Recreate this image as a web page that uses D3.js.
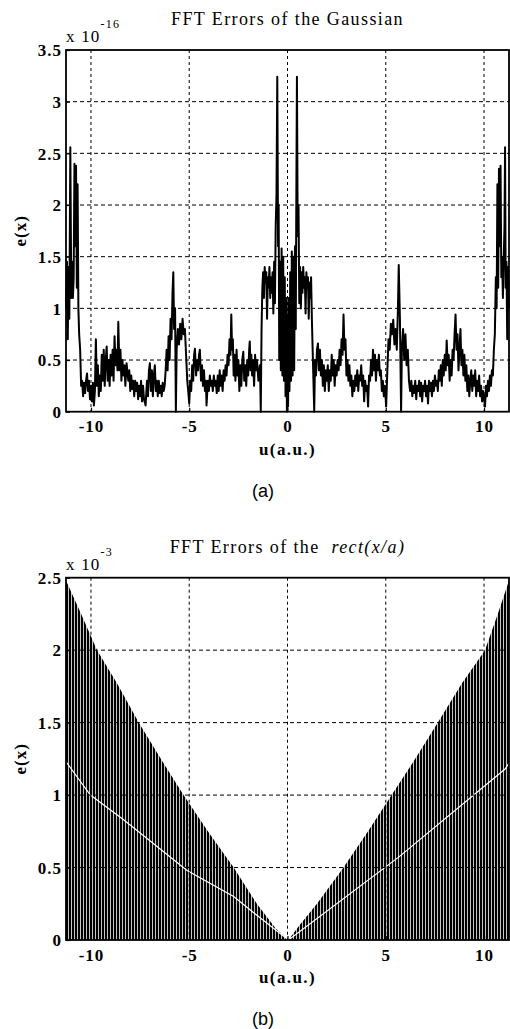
<!DOCTYPE html>
<html>
<head>
<meta charset="utf-8">
<script src="https://cdn.jsdelivr.net/npm/d3@7"></script>
<style>
  body { margin: 0; background: #fff; }
  svg { display: block; }
  .tick text { font-family: "Liberation Serif", "Times New Roman", serif; font-weight: bold; font-size: 17px; letter-spacing: 1px; fill: #000; }
  .serif { font-family: "Liberation Serif", "Times New Roman", serif; fill: #000; }
  .sans { font-family: "Liberation Sans", Arial, sans-serif; fill: #000; }
</style>
</head>
<body>
<div id="chart"></div>
<script>
var svgWidth = 510;
var svgHeight = 1029;

// tick values
var xTicks = [-10, -5, 0, 5, 10];
var yTicksA = [0, 0.5, 1, 1.5, 2, 2.5, 3, 3.5];
var yTicksB = [0, 0.5, 1, 1.5, 2, 2.5];
var uRange = [-11.27, 11.27];

// panel (a): FFT error of the Gaussian, [u, e * 1e16]
var gaussErr = [
  [-11.27, 1.0], [-11.22, 1.45], [-11.18, 0.7], [-11.14, 1.4], [-11.10, 0.9], [-11.05, 2.56], [-11.00, 1.1],
  [-10.96, 1.45], [-10.92, 1.1], [-10.88, 1.3], [-10.84, 2.4], [-10.80, 1.6], [-10.76, 2.38], [-10.72, 1.2],
  [-10.68, 2.2], [-10.64, 1.0], [-10.60, 0.75], [-10.55, 0.6], [-10.50, 0.25], [-10.45, 0.3], [-10.40, 0.15],
  [-10.35, 0.28], [-10.30, 0.18], [-10.25, 0.3], [-10.20, 0.37], [-10.15, 0.2], [-10.10, 0.3], [-10.05, 0.12],
  [-10.00, 0.25], [-9.95, 0.1], [-9.90, 0.28], [-9.85, 0.06], [-9.80, 0.2], [-9.75, 0.7], [-9.70, 0.25],
  [-9.65, 0.45], [-9.60, 0.15], [-9.55, 0.35], [-9.50, 0.2], [-9.45, 0.55], [-9.40, 0.3], [-9.35, 0.6],
  [-9.30, 0.25], [-9.25, 0.5], [-9.20, 0.63], [-9.15, 0.3], [-9.10, 0.5], [-9.05, 0.25], [-9.00, 0.55],
  [-8.95, 0.35], [-8.90, 0.6], [-8.85, 0.3], [-8.80, 0.73], [-8.75, 0.45], [-8.70, 0.6], [-8.65, 0.4],
  [-8.61, 0.87], [-8.55, 0.4], [-8.50, 0.6], [-8.45, 0.3], [-8.40, 0.5], [-8.35, 0.35], [-8.30, 0.45],
  [-8.25, 0.25], [-8.19, 0.47], [-8.10, 0.3], [-8.05, 0.4], [-8.00, 0.2], [-7.95, 0.35], [-7.90, 0.22],
  [-7.85, 0.3], [-7.80, 0.15], [-7.75, 0.3], [-7.70, 0.2], [-7.65, 0.28], [-7.60, 0.12], [-7.55, 0.25],
  [-7.50, 0.15], [-7.45, 0.3], [-7.40, 0.1], [-7.35, 0.25], [-7.30, 0.12], [-7.22, 0.06], [-7.15, 0.3],
  [-7.10, 0.15], [-7.05, 0.4], [-7.00, 0.47], [-6.95, 0.2], [-6.90, 0.4], [-6.85, 0.15], [-6.80, 0.35],
  [-6.75, 0.45], [-6.70, 0.2], [-6.65, 0.3], [-6.60, 0.15], [-6.55, 0.3], [-6.50, 0.18], [-6.45, 0.25],
  [-6.40, 0.15], [-6.35, 0.28], [-6.30, 0.2], [-6.25, 0.25], [-6.20, 0.4], [-6.15, 0.6], [-6.10, 0.4],
  [-6.05, 0.73], [-6.00, 0.5], [-5.95, 0.9], [-5.90, 0.7], [-5.85, 1.15], [-5.81, 1.35], [-5.77, 0.8],
  [-5.72, 1.0], [-5.68, 0.0], [-5.64, 0.6], [-5.58, 0.8], [-5.52, 0.65], [-5.46, 0.85], [-5.40, 0.7],
  [-5.34, 0.9], [-5.28, 0.75], [-5.22, 0.8], [-5.16, 0.55], [-5.10, 0.3], [-5.05, 0.2], [-5.00, 0.08],
  [-4.95, 0.3], [-4.90, 0.2], [-4.85, 0.45], [-4.80, 0.3], [-4.75, 0.55], [-4.71, 0.61], [-4.65, 0.35],
  [-4.60, 0.5], [-4.55, 0.4], [-4.50, 0.55], [-4.46, 0.6], [-4.40, 0.3], [-4.35, 0.45], [-4.30, 0.25],
  [-4.25, 0.4], [-4.20, 0.2], [-4.15, 0.3], [-4.12, 0.06], [-4.05, 0.3], [-4.00, 0.2], [-3.95, 0.35],
  [-3.90, 0.25], [-3.85, 0.3], [-3.80, 0.2], [-3.75, 0.35], [-3.70, 0.25], [-3.65, 0.3], [-3.60, 0.18],
  [-3.55, 0.35], [-3.50, 0.2], [-3.45, 0.4], [-3.40, 0.25], [-3.35, 0.35], [-3.30, 0.2], [-3.25, 0.4],
  [-3.20, 0.3], [-3.15, 0.45], [-3.10, 0.35], [-3.05, 0.55], [-3.00, 0.45], [-2.95, 0.7], [-2.90, 0.55],
  [-2.86, 0.94], [-2.82, 0.6], [-2.78, 0.7], [-2.74, 0.35], [-2.70, 0.55], [-2.65, 0.3], [-2.59, 0.6],
  [-2.55, 0.35], [-2.50, 0.5], [-2.45, 0.2], [-2.40, 0.45], [-2.35, 0.25], [-2.30, 0.5], [-2.25, 0.58],
  [-2.20, 0.3], [-2.15, 0.45], [-2.10, 0.25], [-2.05, 0.5], [-2.00, 0.35], [-1.95, 0.6], [-1.92, 0.68],
  [-1.88, 0.4], [-1.84, 0.55], [-1.80, 0.35], [-1.75, 0.5], [-1.70, 0.25], [-1.65, 0.55], [-1.60, 0.4],
  [-1.55, 0.5], [-1.48, 0.3], [-1.40, 0.45], [-1.36, 0.0], [-1.32, 0.8], [-1.28, 1.2], [-1.24, 1.35],
  [-1.20, 1.1], [-1.16, 1.4], [-1.12, 1.25], [-1.08, 1.35], [-1.04, 0.9], [-1.00, 1.3], [-0.96, 1.2],
  [-0.92, 1.4], [-0.88, 1.1], [-0.84, 1.3], [-0.80, 1.15], [-0.76, 1.35], [-0.72, 0.95], [-0.68, 1.45],
  [-0.64, 1.05], [-0.60, 1.8], [-0.56, 2.1], [-0.52, 3.24], [-0.48, 1.6], [-0.45, 2.0], [-0.42, 0.5],
  [-0.38, 1.45], [-0.34, 0.4], [-0.30, 1.58], [-0.26, 0.35], [-0.22, 1.5], [-0.18, 0.3], [-0.14, 1.3],
  [-0.10, 0.15], [-0.06, 1.1], [-0.03, 0.0], [0.00, 0.9], [0.03, 0.05], [0.06, 1.1], [0.10, 0.2],
  [0.14, 1.35], [0.18, 0.3], [0.22, 1.55], [0.26, 0.35], [0.30, 1.5], [0.34, 0.4], [0.38, 1.6],
  [0.42, 0.8], [0.45, 2.1], [0.48, 3.24], [0.52, 1.7], [0.56, 2.0], [0.60, 1.05], [0.64, 1.4],
  [0.68, 1.0], [0.72, 1.35], [0.76, 1.15], [0.80, 1.4], [0.84, 1.2], [0.88, 1.3], [0.92, 0.95],
  [0.96, 1.35], [1.00, 1.2], [1.04, 1.3], [1.08, 0.9], [1.12, 1.25], [1.16, 1.1], [1.20, 1.3],
  [1.24, 0.9], [1.28, 0.6], [1.32, 0.3], [1.36, 0.0], [1.40, 0.5], [1.45, 0.35], [1.50, 0.6],
  [1.55, 0.66], [1.60, 0.4], [1.65, 0.6], [1.70, 0.35], [1.75, 0.5], [1.80, 0.25], [1.85, 0.45],
  [1.90, 0.2], [1.95, 0.4], [2.00, 0.3], [2.05, 0.45], [2.10, 0.2], [2.15, 0.4], [2.20, 0.3],
  [2.25, 0.55], [2.30, 0.35], [2.35, 0.5], [2.40, 0.25], [2.45, 0.45], [2.50, 0.35], [2.55, 0.5],
  [2.60, 0.4], [2.65, 0.6], [2.70, 0.45], [2.75, 0.7], [2.80, 0.55], [2.85, 0.94], [2.90, 0.6],
  [2.95, 0.7], [3.00, 0.35], [3.05, 0.5], [3.10, 0.3], [3.15, 0.45], [3.20, 0.25], [3.25, 0.35],
  [3.30, 0.15], [3.35, 0.3], [3.40, 0.2], [3.45, 0.35], [3.50, 0.25], [3.55, 0.4], [3.60, 0.2],
  [3.65, 0.35], [3.70, 0.3], [3.75, 0.45], [3.80, 0.25], [3.85, 0.35], [3.90, 0.1], [3.95, 0.3],
  [4.00, 0.2], [4.05, 0.25], [4.10, 0.05], [4.15, 0.35], [4.20, 0.3], [4.25, 0.5], [4.30, 0.35],
  [4.35, 0.6], [4.40, 0.4], [4.45, 0.55], [4.50, 0.3], [4.55, 0.5], [4.60, 0.4], [4.65, 0.55],
  [4.70, 0.35], [4.75, 0.4], [4.80, 0.2], [4.85, 0.3], [4.90, 0.15], [4.95, 0.25], [5.02, 0.05],
  [5.08, 0.4], [5.14, 0.7], [5.20, 0.6], [5.26, 0.85], [5.32, 0.75], [5.38, 0.89], [5.44, 0.65],
  [5.50, 0.8], [5.56, 0.6], [5.62, 1.0], [5.66, 1.42], [5.72, 0.9], [5.78, 0.0], [5.82, 0.6],
  [5.88, 0.8], [5.94, 0.5], [6.00, 0.75], [6.06, 0.45], [6.12, 0.6], [6.18, 0.3], [6.24, 0.2],
  [6.30, 0.3], [6.35, 0.15], [6.40, 0.25], [6.45, 0.18], [6.50, 0.3], [6.55, 0.12], [6.60, 0.25],
  [6.65, 0.2], [6.70, 0.3], [6.75, 0.15], [6.80, 0.28], [6.85, 0.1], [6.90, 0.25], [6.95, 0.2],
  [7.00, 0.3], [7.05, 0.15], [7.10, 0.25], [7.15, 0.08], [7.20, 0.3], [7.25, 0.2], [7.30, 0.28],
  [7.35, 0.15], [7.40, 0.3], [7.45, 0.2], [7.50, 0.35], [7.55, 0.25], [7.60, 0.3], [7.65, 0.2],
  [7.70, 0.4], [7.75, 0.3], [7.80, 0.45], [7.85, 0.25], [7.90, 0.5], [7.95, 0.35], [8.00, 0.55],
  [8.05, 0.4], [8.10, 0.69], [8.15, 0.45], [8.20, 0.55], [8.25, 0.3], [8.30, 0.5], [8.35, 0.35],
  [8.40, 0.6], [8.45, 0.5], [8.50, 0.75], [8.55, 0.94], [8.60, 0.6], [8.65, 0.75], [8.70, 0.4],
  [8.75, 0.6], [8.80, 0.8], [8.85, 0.45], [8.90, 0.6], [8.95, 0.35], [9.00, 0.55], [9.05, 0.3],
  [9.10, 0.45], [9.15, 0.2], [9.20, 0.35], [9.25, 0.15], [9.30, 0.3], [9.35, 0.4], [9.40, 0.2],
  [9.45, 0.35], [9.50, 0.25], [9.55, 0.4], [9.60, 0.15], [9.65, 0.3], [9.70, 0.2], [9.75, 0.35],
  [9.80, 0.15], [9.85, 0.25], [9.90, 0.1], [9.95, 0.2], [10.05, 0.05], [10.10, 0.25], [10.15, 0.15],
  [10.20, 0.3], [10.25, 0.2], [10.30, 0.35], [10.35, 0.25], [10.40, 0.4], [10.45, 0.35], [10.50, 0.6],
  [10.55, 0.75], [10.60, 1.3], [10.64, 1.0], [10.68, 2.2], [10.72, 1.2], [10.76, 2.35], [10.80, 1.6],
  [10.84, 2.38], [10.88, 1.3], [10.92, 1.5], [10.96, 1.1], [11.00, 1.45], [11.04, 1.8], [11.07, 2.56],
  [11.10, 1.2], [11.14, 1.45], [11.18, 0.7], [11.22, 1.4], [11.27, 1.0]
];

// panel (b): FFT error of rect(x/a), [u, e * 1e3]
// outer envelope of the oscillating samples
var rectUpper = [
  [-11.27, 2.48], [-10.5, 2.25], [-9.69, 2.0], [-8.67, 1.77], [-7.57, 1.5], [-6.4, 1.24], [-5.29, 1.0],
  [-4.0, 0.74], [-2.74, 0.5], [-1.56, 0.25], [-0.6, 0.08], [0.05, 0.0], [0.6, 0.1], [1.5, 0.25],
  [2.85, 0.5], [4.1, 0.75], [5.3, 1.0], [6.5, 1.25], [7.65, 1.5], [8.87, 1.77], [10.05, 2.0],
  [10.7, 2.25], [11.27, 2.48]
];
// inner envelope (the light line running through the samples)
var rectInner = [
  [-11.27, 1.23], [-10.03, 1.0], [-8.34, 0.83], [-5.11, 0.48], [-2.74, 0.3], [-1.64, 0.18], [0.05, 0.0],
  [5.64, 0.57], [11.07, 1.18], [11.27, 1.22]
];

var plotLeft = 66, plotRight = 509;

var svg = d3.select("#chart")
  .append("svg")
  .attr("width", svgWidth)
  .attr("height", svgHeight);

// stripe pattern for the dense sample lines
var defs = svg.append("defs");
var pat = defs.append("pattern")
  .attr("id", "stripes")
  .attr("patternUnits", "userSpaceOnUse")
  .attr("x", plotLeft)
  .attr("width", 3)
  .attr("height", 4);
pat.append("rect").attr("width", 3).attr("height", 4).attr("fill", "#c4c4c4");
pat.append("rect").attr("width", 2).attr("height", 4).attr("fill", "#000");

var xScale = d3.scaleLinear().domain(uRange).range([plotLeft, plotRight]);

function drawFrame(top, bottom, yMax, yTicks) {
  var yScale = d3.scaleLinear().domain([0, yMax]).range([bottom, top]);

  var grid = svg.append("g").attr("class", "grid");
  grid.selectAll("line.gx")
    .data(xTicks)
    .enter()
    .append("line")
    .attr("x1", d => xScale(d)).attr("x2", d => xScale(d))
    .attr("y1", top).attr("y2", bottom)
    .attr("stroke", "#000").attr("stroke-width", 1)
    .attr("stroke-dasharray", "3,3");
  grid.selectAll("line.gy")
    .data(yTicks.filter(d => d > 0 && d < yMax))
    .enter()
    .append("line")
    .attr("x1", plotLeft).attr("x2", plotRight)
    .attr("y1", d => yScale(d)).attr("y2", d => yScale(d))
    .attr("stroke", "#000").attr("stroke-width", 1)
    .attr("stroke-dasharray", "4,3");
  return { yScale: yScale, grid: grid };
}

function drawAxes(top, bottom, yScale, yTicks) {
  var bottomAxis = d3.axisBottom(xScale)
    .tickValues(xTicks)
    .tickSizeInner(-4)
    .tickSizeOuter(0)
    .tickPadding(10)
    .tickFormat(d => String(d));
  var leftAxis = d3.axisLeft(yScale)
    .tickValues(yTicks)
    .tickSizeInner(-4)
    .tickSizeOuter(0)
    .tickPadding(4)
    .tickFormat(d => String(d));

  var xAxis = svg.append("g")
    .attr("transform", `translate(0, ${bottom})`)
    .call(bottomAxis);
  var yAxis = svg.append("g")
    .attr("transform", `translate(${plotLeft}, 0)`)
    .call(leftAxis);
  [xAxis, yAxis].forEach(function(a) {
    a.select(".domain").remove();
    a.selectAll(".tick line").attr("stroke", "#000").attr("stroke-width", 1.2);
  });
  xAxis.selectAll(".tick text").attr("dy", "0.62em");
  yAxis.selectAll(".tick text").attr("dy", "0.34em");

  // box
  svg.append("rect")
    .attr("x", plotLeft).attr("y", top)
    .attr("width", plotRight - plotLeft).attr("height", bottom - top)
    .attr("fill", "none").attr("stroke", "#000").attr("stroke-width", 1.8);
}

function drawLabels(top, bottom, title, exp, panel) {
  var cx = (plotLeft + plotRight) / 2;
  title(svg.append("text")
    .attr("class", "serif")
    .attr("x", cx).attr("y", top - 25)
    .attr("text-anchor", "middle")
    .attr("font-size", 18)
    .attr("letter-spacing", 1.4));

  var mult = svg.append("text").attr("class", "serif")
    .attr("x", plotLeft).attr("y", top - 8)
    .attr("font-size", 17)
    .attr("letter-spacing", 1.2);
  mult.append("tspan").text("x 10");
  mult.append("tspan")
    .attr("dy", -14)
    .attr("font-size", 12)
    .text(exp);

  svg.append("text").attr("class", "serif")
    .attr("transform", `translate(26, ${(top + bottom) / 2}) rotate(-90)`)
    .attr("text-anchor", "middle")
    .attr("font-size", 17)
    .attr("font-weight", "bold")
    .attr("letter-spacing", 1)
    .text("e(x)");

  var xl = svg.append("text").attr("class", "serif")
    .attr("x", cx).attr("y", bottom + 43)
    .attr("text-anchor", "middle")
    .attr("font-size", 17)
    .attr("font-weight", "bold")
    .attr("letter-spacing", 1.4);
  xl.append("tspan").text("u");
  xl.append("tspan").text("(a.u.)");

  svg.append("text").attr("class", "sans")
    .attr("x", 263).attr("y", bottom + 85)
    .attr("text-anchor", "middle")
    .attr("font-size", 18)
    .text(panel);
}

// ---- panel (a)
var topA = 50, bottomA = 411.7;
var fa = drawFrame(topA, bottomA, 3.5, yTicksA);
var gaussLine = d3.line()
  .x(d => xScale(d[0]))
  .y(d => fa.yScale(d[1]));
svg.append("path")
  .datum(gaussErr)
  .attr("d", gaussLine)
  .attr("fill", "none")
  .attr("stroke", "#000")
  .attr("stroke-width", 2)
  .attr("stroke-linejoin", "round");
drawAxes(topA, bottomA, fa.yScale, yTicksA);
drawLabels(topA, bottomA, function(t) { t.text("FFT Errors of the Gaussian"); }, "-16", "(a)");

// ---- panel (b)
var topB = 577.7, bottomB = 940;
var fb = drawFrame(topB, bottomB, 2.5, yTicksB);
var rectArea = d3.area()
  .x(d => xScale(d[0]))
  .y0(fb.yScale(0))
  .y1(d => fb.yScale(d[1]));
var dataB = svg.append("g");
dataB.append("path")
  .datum(rectUpper)
  .attr("d", rectArea)
  .attr("fill", "url(#stripes)");
dataB.append("path")
  .datum(rectInner)
  .attr("d", d3.line().x(d => xScale(d[0])).y(d => fb.yScale(d[1])))
  .attr("fill", "none")
  .attr("stroke", "#fff")
  .attr("stroke-width", 1.2);
// grid shows through the dense samples
fb.grid.raise();
drawAxes(topB, bottomB, fb.yScale, yTicksB);
drawLabels(topB, bottomB, function(t) {
  t.append("tspan").text("FFT Errors of the\u00a0\u00a0");
  t.append("tspan").attr("font-style", "italic").text("rect(x/a)");
}, "-3", "(b)");
</script>
</body>
</html>
